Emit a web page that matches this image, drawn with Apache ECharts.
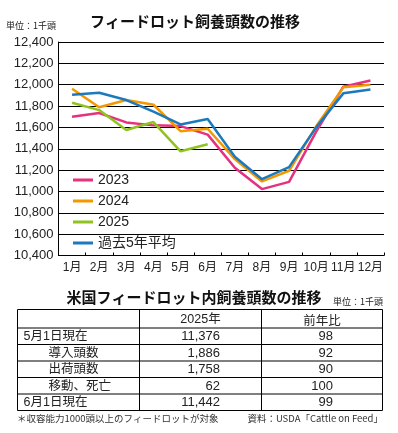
<!DOCTYPE html>
<html>
<head>
<meta charset="utf-8">
<title>フィードロット飼養頭数の推移</title>
<script src="https://cdn.jsdelivr.net/npm/echarts@6/dist/echarts.min.js"></script>
<style>
  html, body { margin: 0; padding: 0; background: #fff; }
  #main { width: 398px; height: 433px; }
</style>
</head>
<body>
<div id="main"></div>
<script type="text/javascript">
// 月
var months = ['1月', '2月', '3月', '4月', '5月', '6月', '7月', '8月', '9月', '10月', '11月', '12月'];
// 各年の飼養頭数（千頭）
var y2023 = [11700, 11735, 11647, 11619, 11612, 11532, 11222, 11022, 11090, 11560, 11981, 12040];
var y2024 = [11962, 11788, 11856, 11812, 11565, 11587, 11303, 11094, 11194, 11610, 11975, 12000];
var y2025 = [11831, 11762, 11575, 11650, 11376, 11442, null, null, null, null, null, null];
var avg5 = [11906, 11925, 11856, 11747, 11628, 11678, 11325, 11115, 11228, 11600, 11919, 11956];
var yTicks = [10400, 12400, 200];

// 表
var rowLabels = ['5月1日現在', '導入頭数', '出荷頭数', '移動、死亡', '6月1日現在'];
var val2025 = [11376, 1886, 1758, 62, 11442];
var yoy = [98, 92, 90, 100, 99];
var colHeads = ['', '2025年', '前年比'];

var FONT = '"Liberation Sans", "Noto Sans CJK JP", sans-serif';
var JP = '"Noto Sans CJK JP", sans-serif';

var myChart = echarts.init(document.getElementById('main'));

// 表を graphic で組み立てる
var tL = 17.5, tR = 382.5, tTop = 309.5, hdrH = 18.5, rowH = 16.5;
var c1 = 139.5, c2 = 261.5;
var tBottom = tTop + hdrH + rowH * rowLabels.length;
var g = [];
g.push({ type: 'rect', shape: { x: tL, y: tTop, width: tR - tL, height: tBottom - tTop },
    style: { fill: 'none', stroke: '#000', lineWidth: 1 } });
[c1, c2].forEach(function (x) {
    g.push({ type: 'line', shape: { x1: x, y1: tTop, x2: x, y2: tBottom }, style: { stroke: '#000', lineWidth: 1 } });
});
for (var r = 0; r < rowLabels.length; r++) {
    var yy = tTop + hdrH + rowH * r;
    g.push({ type: 'line', shape: { x1: tL, y1: yy, x2: tR, y2: yy }, style: { stroke: '#000', lineWidth: 1 } });
}
var TF = '12.5px ' + FONT;
g.push({ type: 'text', x: (c1 + c2) / 2, y: tTop + hdrH / 2 + 1,
    style: { text: colHeads[1], font: TF, fill: '#222', align: 'center', verticalAlign: 'middle' } });
g.push({ type: 'text', x: (c2 + tR) / 2, y: tTop + hdrH / 2 + 1,
    style: { text: colHeads[2], font: '12.5px ' + JP, fill: '#222', align: 'center', verticalAlign: 'middle' } });
rowLabels.forEach(function (lab, i) {
    var cy = tTop + hdrH + rowH * i + rowH / 2 + 0.5;
    var indent = (i > 0 && i < rowLabels.length - 1) ? 31 : 6;
    g.push({ type: 'text', x: tL + indent, y: cy,
        style: { text: lab, font: TF, fill: '#222', align: 'left', verticalAlign: 'middle' } });
    g.push({ type: 'text', x: 220, y: cy,
        style: { text: val2025[i].toLocaleString('en-US'), font: '13px ' + FONT, fill: '#222', align: 'right', verticalAlign: 'middle' } });
    g.push({ type: 'text', x: 333, y: cy,
        style: { text: String(yoy[i]), font: '13px ' + FONT, fill: '#222', align: 'right', verticalAlign: 'middle' } });
});
// 見出し・注記
g.push({ type: 'text', x: 195, y: 21,
    style: { text: 'フィードロット飼養頭数の推移', font: 'bold 15px ' + JP, fill: '#111', align: 'center', verticalAlign: 'middle' } });
g.push({ type: 'text', x: 6, y: 26,
    style: { text: '単位：1千頭', font: '9px ' + JP, fill: '#222', align: 'left', verticalAlign: 'middle' } });
g.push({ type: 'text', x: 194, y: 297,
    style: { text: '米国フィードロット内飼養頭数の推移', font: 'bold 15px ' + JP, fill: '#111', align: 'center', verticalAlign: 'middle' } });
g.push({ type: 'text', x: 383, y: 302,
    style: { text: '単位：1千頭', font: '9px ' + JP, fill: '#222', align: 'right', verticalAlign: 'middle' } });
g.push({ type: 'text', x: 17, y: 418,
    style: { text: '＊収容能力1000頭以上のフィードロットが対象', font: '9.5px ' + JP, fill: '#333', align: 'left', verticalAlign: 'middle' } });
g.push({ type: 'text', x: 383, y: 418,
    style: { text: '資料：USDA「Cattle on Feed」', font: '9.5px ' + JP, fill: '#333', align: 'right', verticalAlign: 'middle' } });

function lineSeries(name, data, color) {
    return {
        name: name, type: 'line', data: data, symbol: 'none', smooth: false,
        connectNulls: false, silent: true,
        lineStyle: { color: color, width: 2.5 },
        itemStyle: { color: color }
    };
}

myChart.setOption({
    animation: false,
    backgroundColor: '#fff',
    grid: { left: 58.5, right: 14, top: 42, bottom: 177.5, containLabel: false },
    legend: {
        orient: 'vertical', left: 73, top: 173, padding: 0,
        itemWidth: 20, itemHeight: 3, itemGap: 7,
        icon: 'rect',
        textStyle: { fontSize: 14, color: '#222', fontFamily: FONT },
        data: ['2023', '2024', '2025', '過去5年平均']
    },
    xAxis: {
        type: 'category', data: months, boundaryGap: true,
        axisLine: { lineStyle: { color: '#000', width: 1 } },
        axisTick: { show: true, inside: true, length: 3, lineStyle: { color: '#000' } },
        axisLabel: { fontSize: 12, color: '#222', margin: 6, fontFamily: FONT, interval: 0 }
    },
    yAxis: {
        type: 'value', min: yTicks[0], max: yTicks[1], interval: yTicks[2],
        axisLine: { show: true, lineStyle: { color: '#000', width: 1 } },
        axisTick: { show: false },
        axisLabel: {
            fontSize: 13, color: '#222', margin: 5, fontFamily: FONT,
            formatter: function (v) { return v.toLocaleString('en-US'); }
        },
        splitLine: { lineStyle: { color: '#000', width: 1 } }
    },
    series: [
        lineSeries('2023', y2023, '#e5317f'),
        lineSeries('2024', y2024, '#f39800'),
        lineSeries('2025', y2025, '#8fc31f'),
        lineSeries('過去5年平均', avg5, '#1b79bd')
    ],
    graphic: g
});
</script>
</body>
</html>
